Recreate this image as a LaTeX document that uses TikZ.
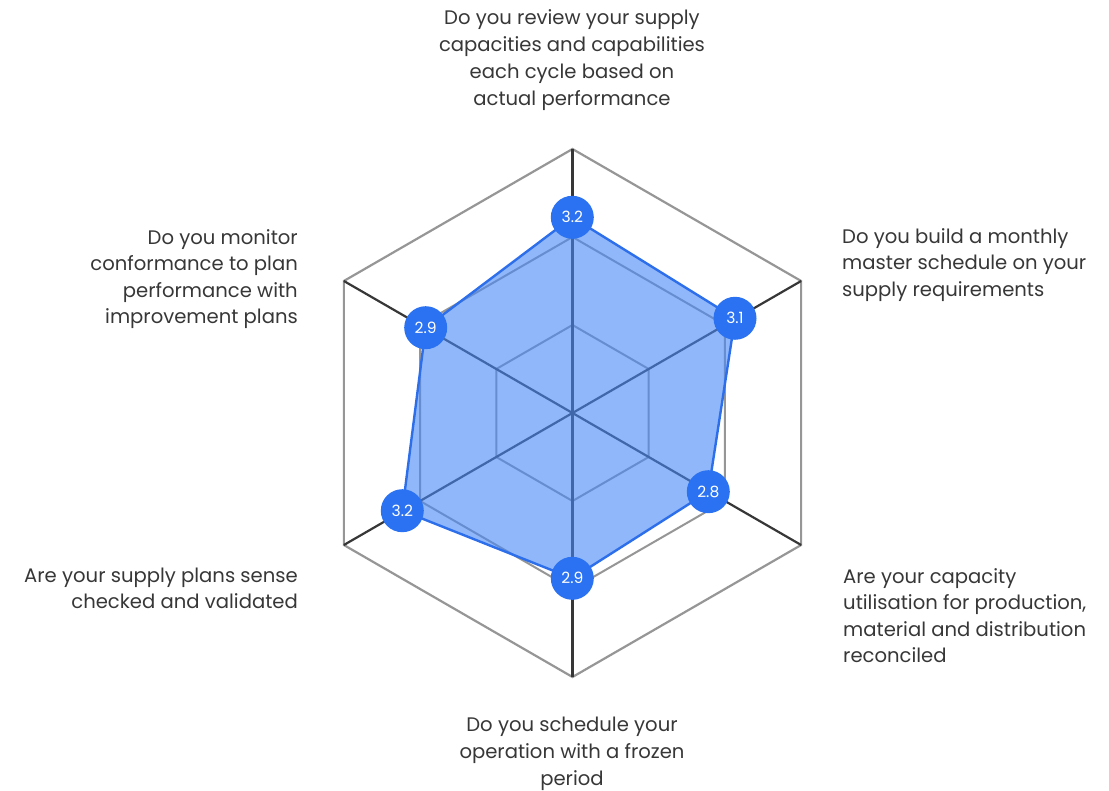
\documentclass[tikz,border=0pt]{standalone}
\usepackage{fontspec}
\setmainfont{Poppins}
\definecolor{txt}{RGB}{55,55,55}
\definecolor{gridgray}{RGB}{150,150,150}
\definecolor{spokegray}{RGB}{55,55,55}
\definecolor{polyfill}{RGB}{70,135,245}
\definecolor{polyedge}{RGB}{45,110,235}
\definecolor{dotblue}{RGB}{43,114,242}
\tikzset{
  outerhex/.style={draw=gridgray, line width=2.2pt, line join=miter},
  innerhex/.style={draw=gridgray, line width=2pt, line join=miter},
  spoke/.style={draw=spokegray, line width=2.2pt},
  area/.style={fill=polyfill, fill opacity=0.6, draw=polyedge, draw opacity=1, line width=2.4pt, line join=round},
  dot/.style={circle, fill=dotblue, minimum size=43pt, inner sep=0pt, text=white, font=\fontsize{15.5}{15.5}\selectfont},
  lbl/.style={inner sep=0pt, text=txt, font=\fontsize{19.6}{26.3}\selectfont},
  lblwide/.style={inner sep=0pt, text=txt, font=\fontsize{19.6}{27}\selectfont}
}
\begin{document}
\begin{tikzpicture}[x=1pt,y=-1pt]
\useasboundingbox (0,0) rectangle (1109,791);
\coordinate (C) at (572.5,413);
\begin{scope}[shift={(572.5,413)}]
  \coordinate (vT) at (270:264);
  \coordinate (vUR) at (330:264);
  \coordinate (vLR) at (30:264);
  \coordinate (vB) at (90:264);
  \coordinate (vLL) at (150:264);
  \coordinate (vUL) at (210:264);
  \foreach \r in {88,176}{
    \draw[innerhex] (30:\r) -- (90:\r) -- (150:\r) -- (210:\r) -- (270:\r) -- (330:\r) -- cycle;
  }
\end{scope}
\draw[outerhex] (vT) -- (vUR) -- (vLR) -- (vB) -- (vLL) -- (vUL) -- cycle;
\foreach \v in {vT,vUR,vLR,vB,vLL,vUL} \draw[spoke] (C) -- (\v);
% data points
\coordinate (p1) at (572.3,217.3);
\coordinate (p2) at (735,318.3);
\coordinate (p3) at (708.3,491.7);
\coordinate (p4) at (572.3,578.3);
\coordinate (p5) at (402.3,510.7);
\coordinate (p6) at (425.7,327.7);
\draw[area] (p1) -- (p2) -- (p3) -- (p4) -- (p5) -- (p6) -- cycle;
\node[dot] (d1) at (p1) {3.2};
\node[dot] (d2) at (p2) {3.1};
\node[dot] (d3) at (p3) {2.8};
\node[dot] (d4) at (p4) {2.9};
\node[dot] (d5) at (p5) {3.2};
\node[dot] (d6) at (p6) {2.9};
% labels
\node[lblwide, align=center, anchor=north] (lT) at (572,9.5) {Do you review your supply\\capacities and capabilities\\each cycle based on\\actual performance};
\node[lbl, align=left, anchor=north west] (lUR) at (842,228.5) {Do you build a monthly\\master schedule on your\\supply requirements};
\node[lbl, align=right, anchor=north east] (lUL) at (298,229.5) {Do you monitor\\conformance to plan\\performance with\\improvement plans};
\node[lbl, align=right, anchor=north east] (lLL) at (298,567.5) {Are your supply plans sense\\checked and validated};
\node[lbl, align=left, anchor=north west] (lLR) at (843,568.5) {Are your capacity\\utilisation for production,\\material and distribution\\reconciled};
\node[lblwide, align=center, anchor=north] (lB) at (572,716.5) {Do you schedule your\\operation with a frozen\\period};
\end{tikzpicture}
\end{document}
